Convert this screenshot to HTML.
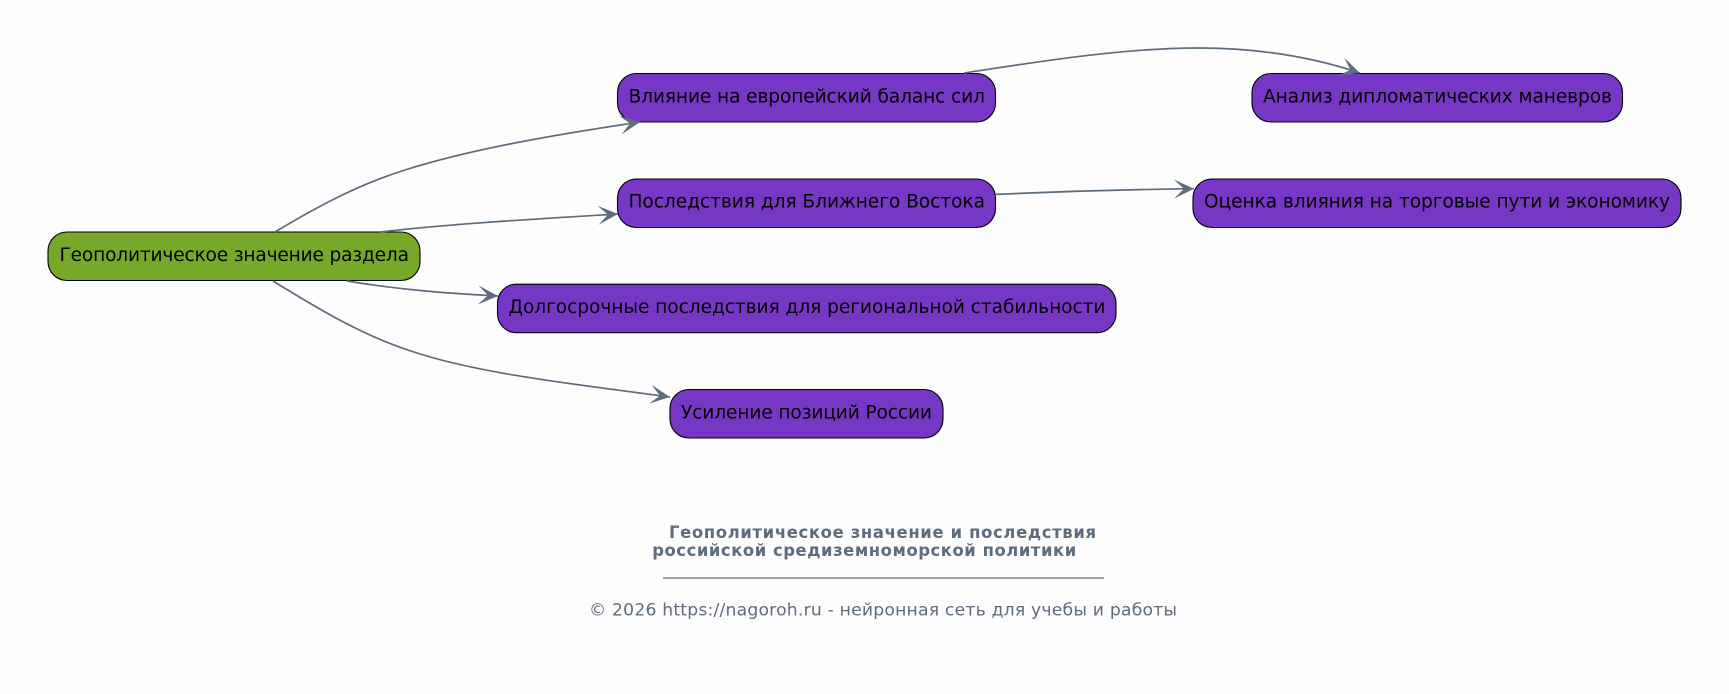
<!DOCTYPE html>
<html lang="ru">
<head>
<meta charset="utf-8">
<title>Геополитическое значение раздела</title>
<style>
html,body{margin:0;padding:0;background:#fdfdfd;width:1729px;height:694px;overflow:hidden}
svg{display:block}
text{font-family:"DejaVu Sans","Liberation Sans",sans-serif}
.n{font-size:18.6px;fill:#000}
.e{fill:none;stroke:#5d6d7e;stroke-width:1.7}
.a{fill:#5d6d7e}
.t{font-size:16.4px;font-weight:bold;fill:#5d6d7e}
.f{font-size:17.2px;fill:#5d6d7e}
.b{stroke:#000;stroke-width:1.1}
</style>
</head>
<body>
<svg width="1729" height="694" viewBox="0 0 1729 694" xmlns="http://www.w3.org/2000/svg">
<defs>
<marker id="h" markerUnits="userSpaceOnUse" markerWidth="26" markerHeight="26" viewBox="-23 -13 26 26" refX="0" refY="0" orient="auto">
<path class="a" d="M0,0 L-20,-9.5 L-10,0 L-20,9.5 Z"/>
</marker>
</defs>
<rect width="1729" height="694" fill="#fdfdfd"/>

<rect class="b" x="48" y="232" width="372" height="48.5" rx="19" fill="#78a82a"/>
<rect class="b" x="617.5" y="73.5" width="378" height="48.5" rx="19" fill="#7638c4"/>
<rect class="b" x="617.5" y="179" width="378" height="48.5" rx="19" fill="#7638c4"/>
<rect class="b" x="497.5" y="284.2" width="618.5" height="48.5" rx="19" fill="#7638c4"/>
<rect class="b" x="670" y="389.5" width="273" height="48.5" rx="19" fill="#7638c4"/>
<rect class="b" x="1252" y="73.5" width="370.5" height="48.5" rx="19" fill="#7638c4"/>
<rect class="b" x="1193" y="179" width="488" height="48.5" rx="19" fill="#7638c4"/>

<path class="e" marker-end="url(#h)" d="M275,232 C320,205 360,184 405,170 C475,148 560,134 640,122"/>
<path class="e" marker-end="url(#h)" d="M380,232 C450,224 520,220 618,214"/>
<path class="e" marker-end="url(#h)" d="M347,281 C395,289 440,293 498,296"/>
<path class="e" marker-end="url(#h)" d="M273,281 C320,310 365,337 417,353 C485,375 590,386 670,397"/>
<path class="e" marker-end="url(#h)" d="M964,73 C1030,63 1120,48 1198,48 C1260,48 1315,58 1360,73"/>
<path class="e" marker-end="url(#h)" d="M996,194.4 C1060,191.5 1130,189.5 1194,188.7"/>

<text class="n" x="59.5" y="261" textLength="349.5">Геополитическое значение раздела</text>
<text class="n" x="628.5" y="102.5" textLength="356.5">Влияние на европейский баланс сил</text>
<text class="n" x="628.5" y="207.5" textLength="356.5">Последствия для Ближнего Востока</text>
<text class="n" x="508.5" y="313" textLength="597">Долгосрочные последствия для региональной стабильности</text>
<text class="n" x="681" y="418.5" textLength="251">Усиление позиций России</text>
<text class="n" x="1263" y="102.5" textLength="349">Анализ дипломатических маневров</text>
<text class="n" x="1204" y="207.5" textLength="466">Оценка влияния на торговые пути и экономику</text>

<text class="t" x="669" y="538" textLength="427">Геополитическое значение и последствия</text>
<text class="t" x="652.2" y="556" textLength="424">российской средиземноморской политики</text>
<line x1="663" y1="578" x2="1104" y2="578" stroke="#5d6d7e" stroke-width="1.2"/>
<text class="f" x="589" y="615.5" textLength="588">© 2026 https://nagoroh.ru - нейронная сеть для учебы и работы</text>
</svg>
</body>
</html>
